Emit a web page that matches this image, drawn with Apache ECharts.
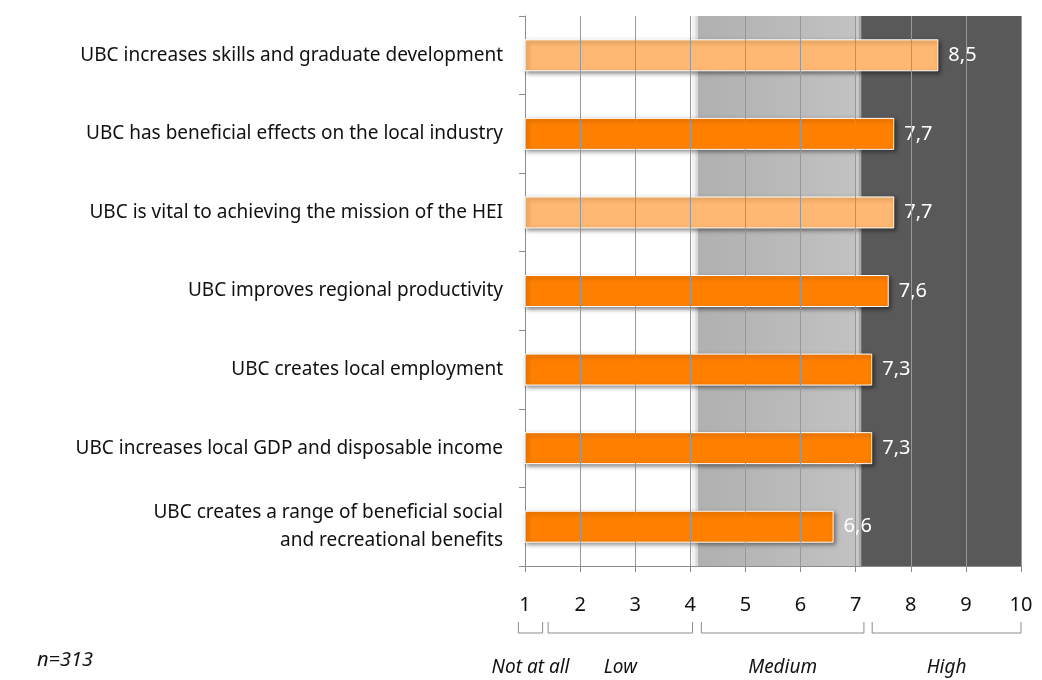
<!DOCTYPE html>
<html>
<head>
<meta charset="utf-8">
<script src="https://cdn.jsdelivr.net/npm/echarts@6/dist/echarts.min.js"></script>
<style>
  html, body { margin: 0; padding: 0; background: #fff; }
  #chart { width: 1042px; height: 680px; }
</style>
</head>
<body>
<div id="chart"></div>
<script>
// Statements about university-business cooperation (UBC), top to bottom
const categories = [
  'UBC increases skills and graduate development',
  'UBC has beneficial effects on the local industry',
  'UBC is vital to achieving the mission of the HEI',
  'UBC improves regional productivity',
  'UBC creates local employment',
  'UBC increases local GDP and disposable income',
  'UBC creates a range of beneficial social\nand recreational benefits'
];
// Mean agreement score on a 1-10 scale
const scores = [8.5, 7.7, 7.7, 7.6, 7.3, 7.3, 6.6];
// Which bars use the lighter highlight colour
const highlighted = [true, false, true, false, false, false, false];
// Scale groupings shown under the axis: [label, from, to]
const scaleGroups = [
  ['Not at all', 0.88, 1.32],
  ['Low', 1.42, 4.04],
  ['Medium', 4.2, 7.15],
  ['High', 7.3, 10]
];
const tickValues = [1, 2, 3, 4, 5, 6, 7, 8, 9, 10];
const sampleNote = 'n=313';

const FONT = '"Noto Sans", "DejaVu Sans", sans-serif';
const chart = echarts.init(document.getElementById('chart'), null, { renderer: 'canvas' });

const gridlineData = tickValues.slice(1).map(v => ({ xAxis: v }));

const option = {
  animation: false,
  backgroundColor: '#ffffff',
  grid: { left: 525, right: 21, top: 16, bottom: 114, containLabel: false },
  xAxis: {
    type: 'value',
    min: 1, max: 10, interval: 1,
    axisLine: { show: true, lineStyle: { color: '#8c8c8c', width: 1 } },
    axisTick: { show: true, length: 6, inside: false, lineStyle: { color: '#8c8c8c' } },
    splitLine: { show: false },
    axisLabel: { color: '#111', fontSize: 20, fontFamily: FONT, margin: 29 }
  },
  yAxis: {
    type: 'category',
    inverse: true,
    data: categories,
    axisLine: { show: true, lineStyle: { color: '#8c8c8c', width: 1 } },
    axisTick: { show: true, length: 6, lineStyle: { color: '#8c8c8c' } },
    axisLabel: {
      color: '#111', fontSize: 19, fontFamily: FONT, margin: 22,
      align: 'right', lineHeight: 28
    }
  },
  series: [
    {
      // Background bands for the Medium and High ranges
      type: 'scatter',
      data: [],
      z: 1,
      silent: true,
      markArea: {
        silent: true,
        label: { show: false },
        data: [
          [{ xAxis: 4.03, itemStyle: { color: '#f2f2f2' } }, { xAxis: 4.09 }],
          [{ xAxis: 4.09, itemStyle: { color: '#dadada' } }, { xAxis: 4.14 }],
          [{ xAxis: 4.14, itemStyle: { color: {
              type: 'linear', x: 0, y: 0, x2: 1, y2: 0,
              colorStops: [{ offset: 0, color: '#b0b0b0' }, { offset: 1, color: '#c2c2c2' }]
            } } }, { xAxis: 7.0 }],
          [{ xAxis: 7.0, itemStyle: { color: '#c9c9c9' } }, { xAxis: 7.05 }],
          [{ xAxis: 7.05, itemStyle: { color: '#a8a8a8' } }, { xAxis: 7.1 }],
          [{ xAxis: 7.1, itemStyle: { color: '#595959' } }, { xAxis: 10 }]
        ]
      }
    },
    {
      // Vertical gridlines drawn over the bands
      type: 'scatter',
      data: [],
      z: 2,
      silent: true,
      markLine: {
        silent: true,
        symbol: 'none',
        label: { show: false },
        lineStyle: { color: '#989898', width: 1, type: 'solid' },
        data: gridlineData
      }
    },
    {
      type: 'bar',
      z: 3,
      barWidth: 32,
      data: scores.map((v, i) => ({
        value: v,
        itemStyle: { color: highlighted[i] ? '#ffb871' : '#ff8000' }
      })),
      itemStyle: {
        borderColor: '#ffffff',
        borderWidth: 1,
        shadowColor: 'rgba(0,0,0,0.45)',
        shadowBlur: 4,
        shadowOffsetX: 2,
        shadowOffsetY: 2
      },
      label: {
        show: true,
        position: 'right',
        distance: 10,
        color: '#ffffff',
        fontSize: 20,
        fontFamily: FONT,
        formatter: p => String(p.value).replace('.', ',')
      }
    }
  ]
};

chart.setOption(option);

// Brackets and captions for the scale groupings below the axis
function drawGroups() {
  const els = [];
  const yTop = 622, yBot = 633;
  scaleGroups.forEach(([name, a, b]) => {
    const x1 = chart.convertToPixel({ xAxisIndex: 0 }, a);
    const x2 = chart.convertToPixel({ xAxisIndex: 0 }, b);
    els.push({
      type: 'polyline',
      silent: true,
      shape: { points: [[x1, yTop], [x1, yBot], [x2, yBot], [x2, yTop]] },
      style: { stroke: '#8c8c8c', lineWidth: 1, fill: null }
    });
    els.push({
      type: 'text',
      silent: true,
      style: {
        text: name,
        x: (x1 + x2) / 2,
        y: 668,
        align: 'center',
        verticalAlign: 'middle',
        font: 'italic 19px ' + FONT,
        fill: '#111'
      }
    });
  });
  els.push({
    type: 'text',
    silent: true,
    style: {
      text: sampleNote,
      x: 37,
      y: 660,
      verticalAlign: 'middle',
      font: 'italic 20px ' + FONT,
      fill: '#111'
    }
  });
  chart.setOption({ graphic: els });
}
drawGroups();
</script>
</body>
</html>
